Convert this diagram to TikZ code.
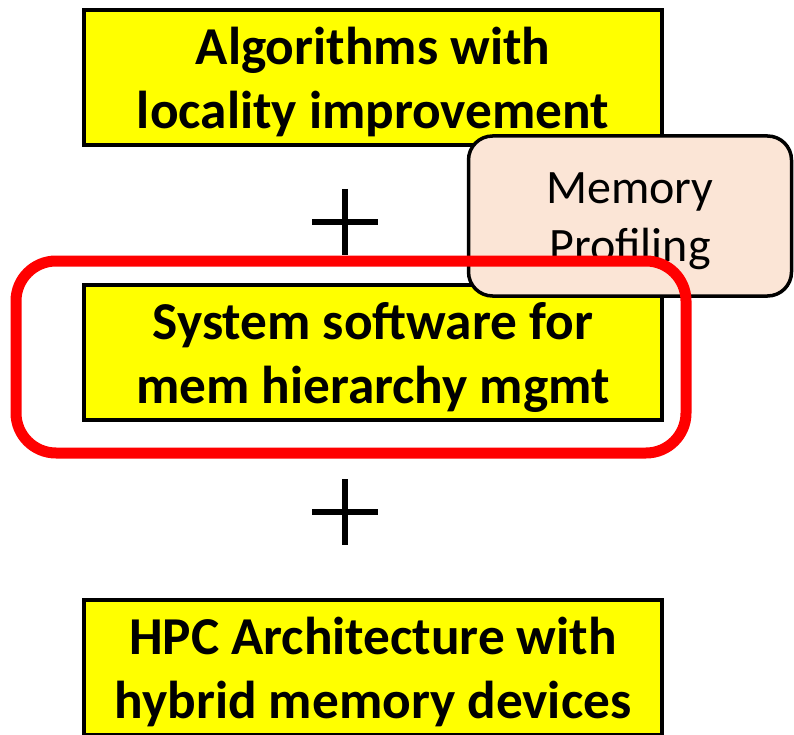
\documentclass[tikz,border=0pt]{standalone}
\usepackage{fontspec}
\setmainfont{Carlito}
\definecolor{boxyellow}{HTML}{FFFF00}
\definecolor{peach}{HTML}{FBE5D6}
\definecolor{hilite}{HTML}{FF0000}
\begin{document}
\begin{tikzpicture}[x=1pt,y=-1pt,
  layer/.style={draw=black, line width=3.5pt, fill=boxyellow, inner sep=0pt,
    minimum width=578pt, minimum height=135pt},
  layertext/.style={inner sep=0pt, align=center,
    font=\fontsize{53.3}{64}\selectfont\bfseries},
  tool/.style={draw=black, line width=3.5pt, fill=peach, rounded corners=24pt,
    inner sep=0pt, minimum width=323pt, minimum height=160pt},
  tooltext/.style={inner sep=0pt, align=center,
    font=\fontsize{48}{58}\selectfont},
  plussign/.style={minimum size=66pt, inner sep=0pt,
    path picture={\draw[line width=6pt]
      (path picture bounding box.north) -- (path picture bounding box.south)
      (path picture bounding box.west) -- (path picture bounding box.east);}},
  focus/.style={draw=hilite, line width=11pt, rounded corners=40pt,
    inner sep=0pt, minimum width=670pt, minimum height=192pt}
]
\useasboundingbox (0,0) rectangle (794,735);
% the three stacked layers
\node[layer] (algo) at (373,77.5) {};
\node[layertext] (algotxt) at ([yshift=-4.5pt]algo.center)
  {Algorithms with\\locality improvement};
\node[layer] (sys) at (373,352.5) {};
\node[layertext] (systxt) at ([yshift=-4.5pt]sys.center)
  {System software for\\mem hierarchy mgmt};
\node[layer] (hpc) at (373,667.5) {};
\node[layertext] (hpctxt) at ([yshift=-4.5pt]hpc.center)
  {HPC Architecture with\\hybrid memory devices};
% profiling tool overlapping the upper two layers
\node[tool] (prof) at (630,216) {};
\node[tooltext] (proftxt) at ([yshift=-5pt]prof.center) {Memory\\Profiling};
% highlight around the system software layer
\node[focus] (ring) at (351,357) {};
% plus signs between the layers
\node[plussign] (p1) at (345,222) {};
\node[plussign] (p2) at (345,512) {};
\end{tikzpicture}
\end{document}
